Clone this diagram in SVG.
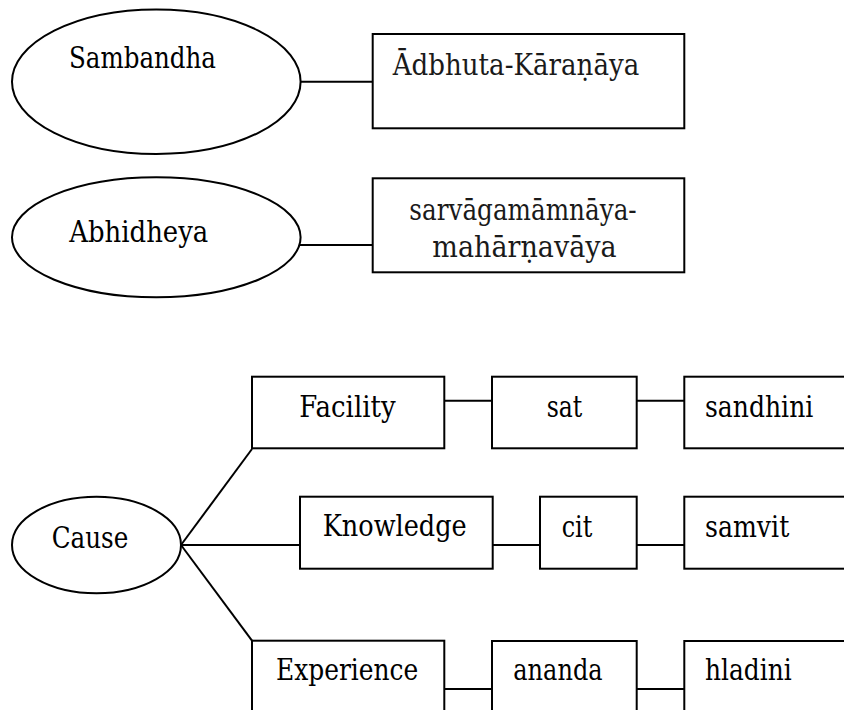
<svg xmlns="http://www.w3.org/2000/svg" width="844" height="710" viewBox="0 0 844 710">
  <style>
    .shape { fill: #ffffff; stroke: #000000; stroke-width: 2; }
    .link { fill: none; stroke: #000000; stroke-width: 2; }
    text { font-family: 'DejaVu Serif', serif; font-size: 29px; fill: #000000; }
    .skt { fill: #1a1a1a; }
  </style>
  <rect width="844" height="710" fill="#ffffff"/>

  <!-- connectors -->
  <g id="connectors">
    <line class="link" x1="300.5" y1="81.7" x2="372.7" y2="81.7"/>
    <line class="link" x1="299.5" y1="245" x2="372.7" y2="245"/>
    <line class="link" x1="181" y1="545" x2="252" y2="449"/>
    <line class="link" x1="181" y1="545" x2="300" y2="545"/>
    <line class="link" x1="181" y1="545" x2="252" y2="640.7"/>
    <line class="link" x1="444.3" y1="400.7" x2="492" y2="400.7"/>
    <line class="link" x1="636.7" y1="400.7" x2="684.3" y2="400.7"/>
    <line class="link" x1="492.7" y1="545" x2="540" y2="545"/>
    <line class="link" x1="636.7" y1="545" x2="684.3" y2="545"/>
    <line class="link" x1="444.3" y1="689" x2="492" y2="689"/>
    <line class="link" x1="636.7" y1="689" x2="684.3" y2="689"/>
  </g>

  <g id="sambandha">
    <ellipse class="shape" cx="156.3" cy="81.7" rx="144.3" ry="72.3"/>
    <text x="69" y="68" textLength="147" lengthAdjust="spacingAndGlyphs">Sambandha</text>
  </g>
  <g id="adbhuta">
    <rect class="shape" x="372.7" y="34" width="311.6" height="94.3"/>
    <text class="skt" x="392.7" y="75" textLength="246.6" lengthAdjust="spacingAndGlyphs">Ādbhuta-Kāraṇāya</text>
  </g>

  <g id="abhidheya">
    <ellipse class="shape" cx="156.3" cy="237.3" rx="144.3" ry="60"/>
    <text x="69.3" y="241.7" textLength="139" lengthAdjust="spacingAndGlyphs">Abhidheya</text>
  </g>
  <g id="sarvagama">
    <rect class="shape" x="372.7" y="178.3" width="311.6" height="94"/>
    <text class="skt" x="409.3" y="220" textLength="227.4" lengthAdjust="spacingAndGlyphs">sarvāgamāmnāya-</text>
    <text class="skt" x="432.3" y="256.7" textLength="184.4" lengthAdjust="spacingAndGlyphs">mahārṇavāya</text>
  </g>

  <g id="cause">
    <ellipse class="shape" cx="96.5" cy="545" rx="84.5" ry="48.3"/>
    <text x="51.7" y="547.7" textLength="76.6" lengthAdjust="spacingAndGlyphs">Cause</text>
  </g>

  <g id="facility">
    <rect class="shape" x="252" y="376.7" width="192.3" height="71.6"/>
    <text x="299.3" y="416.7" textLength="96.4" lengthAdjust="spacingAndGlyphs">Facility</text>
  </g>
  <g id="sat">
    <rect class="shape" x="492" y="376.7" width="144.7" height="71.6"/>
    <text x="546.7" y="416.7" textLength="35.6" lengthAdjust="spacingAndGlyphs">sat</text>
  </g>
  <g id="sandhini">
    <rect class="shape" x="684.3" y="376.7" width="170" height="71.6"/>
    <text x="705" y="416.7" textLength="108.3" lengthAdjust="spacingAndGlyphs">sandhini</text>
  </g>

  <g id="knowledge">
    <rect class="shape" x="300" y="496.7" width="192.7" height="72"/>
    <text x="322.7" y="535.7" textLength="144" lengthAdjust="spacingAndGlyphs">Knowledge</text>
  </g>
  <g id="cit">
    <rect class="shape" x="540" y="496.7" width="96.7" height="72"/>
    <text x="561.7" y="536.7" textLength="30.6" lengthAdjust="spacingAndGlyphs">cit</text>
  </g>
  <g id="samvit">
    <rect class="shape" x="684.3" y="496.7" width="170" height="72"/>
    <text x="705" y="536.7" textLength="84.3" lengthAdjust="spacingAndGlyphs">samvit</text>
  </g>

  <g id="experience">
    <rect class="shape" x="252" y="640.7" width="192.3" height="80"/>
    <text x="276" y="680" textLength="142.3" lengthAdjust="spacingAndGlyphs">Experience</text>
  </g>
  <g id="ananda">
    <rect class="shape" x="492" y="641" width="144.7" height="80"/>
    <text x="513.3" y="680" textLength="89.3" lengthAdjust="spacingAndGlyphs">ananda</text>
  </g>
  <g id="hladini">
    <rect class="shape" x="684.3" y="641" width="170" height="80"/>
    <text x="705" y="680" textLength="86.7" lengthAdjust="spacingAndGlyphs">hladini</text>
  </g>
</svg>
